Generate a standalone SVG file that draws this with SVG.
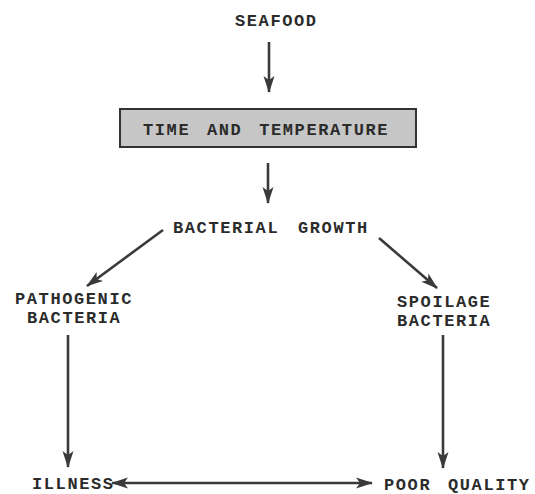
<svg xmlns="http://www.w3.org/2000/svg" width="535" height="494" viewBox="0 0 535 494">
<style>
text{font-family:"Liberation Mono","Courier New",monospace;font-weight:bold;font-size:17px;letter-spacing:1.6px;fill:#2b2b2b}
.c{stroke:#3a3a3a;stroke-width:2.6;fill:none}
</style>
<defs>
<marker id="ah" markerUnits="userSpaceOnUse" markerWidth="18" markerHeight="12" refX="16" refY="6" orient="auto-start-reverse">
<path d="M0,0.5 L17,6 L0,11.5 L4,6 z" fill="#3a3a3a"/>
</marker>
</defs>
<rect width="535" height="494" fill="#fff"/>
<g id="seafood"><text x="235" y="26">SEAFOOD</text></g>
<g id="time-temp">
<rect x="120" y="109" width="296" height="38" fill="#c6c6c6" stroke="#333" stroke-width="2"/>
<text x="143" y="135" word-spacing="5">TIME AND TEMPERATURE</text>
</g>
<g id="bacterial-growth"><text x="173" y="233" word-spacing="7">BACTERIAL GROWTH</text></g>
<g id="pathogenic"><text x="15" y="304">PATHOGENIC</text><text x="27" y="323">BACTERIA</text></g>
<g id="spoilage"><text x="397" y="307">SPOILAGE</text><text x="397" y="326">BACTERIA</text></g>
<g id="illness"><text x="32" y="489">ILLNESS</text></g>
<g id="poor-quality"><text x="384" y="490" word-spacing="5">POOR QUALITY</text></g>
<g id="connectors">
<line class="c" x1="269" y1="42" x2="269" y2="92" marker-end="url(#ah)"/>
<line class="c" x1="268" y1="163" x2="268" y2="203" marker-end="url(#ah)"/>
<line class="c" x1="163" y1="230" x2="87" y2="286" marker-end="url(#ah)"/>
<line class="c" x1="379" y1="238" x2="437" y2="288" marker-end="url(#ah)"/>
<line class="c" x1="68" y1="335" x2="68" y2="467" marker-end="url(#ah)"/>
<line class="c" x1="443" y1="335" x2="443" y2="468" marker-end="url(#ah)"/>
<line class="c" x1="112" y1="483" x2="372" y2="483" marker-start="url(#ah)" marker-end="url(#ah)"/>
</g>
</svg>
